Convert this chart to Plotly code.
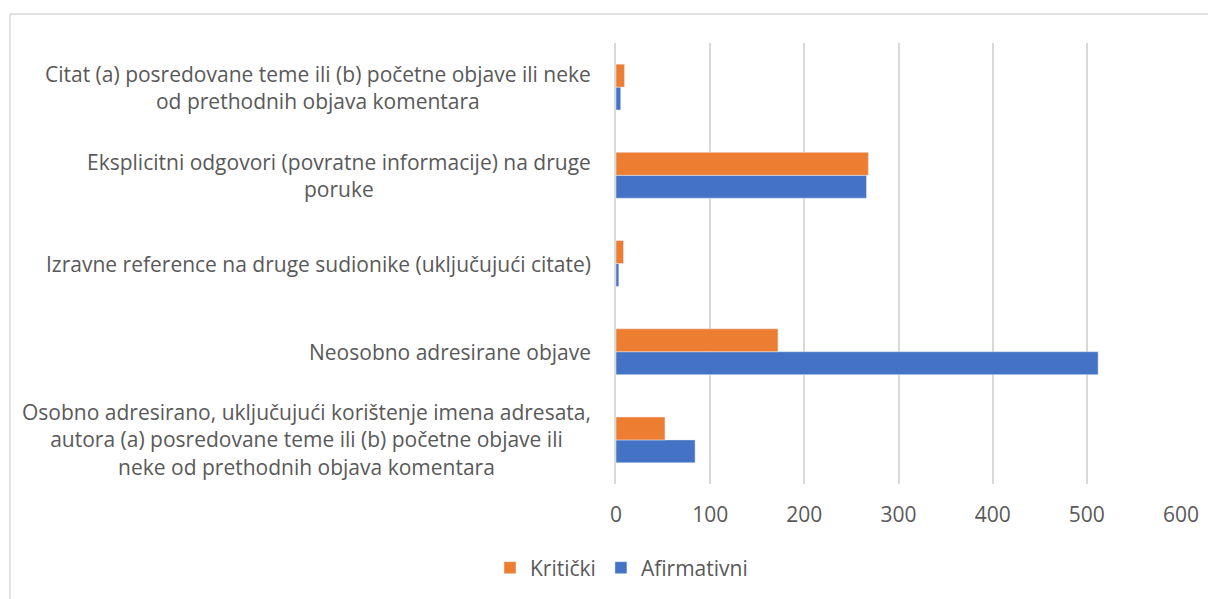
import plotly.graph_objects as go

# Categories listed top-to-bottom as in the reference
categories = [
    "Citat (a) posredovane teme ili (b) početne objave ili neke<br>od prethodnih objava komentara",
    "Eksplicitni odgovori (povratne informacije) na druge<br>poruke",
    "Izravne reference na druge sudionike (uključujući citate)",
    "Neosobno adresirane objave",
    "Osobno adresirano, uključujući korištenje imena adresata,<br>autora (a) posredovane teme ili (b) početne objave ili<br>neke od prethodnih objava komentara",
]
kriticki = [9, 268, 8, 172, 52]
afirmativni = [5, 266, 3, 512, 84]
x_ticks = [0, 100, 200, 300, 400, 500, 600]

keys = [f"c{i}" for i in range(len(categories))]
# plotly draws first category at bottom -> reverse
order = keys[::-1]

TXT = "#595959"
FONT = "Open Sans"
FS = 21

fig = go.Figure()
fig.add_trace(go.Bar(
    y=keys, x=afirmativni, orientation="h", name="Afirmativni",
    marker=dict(color="#4472C4"),
))
fig.add_trace(go.Bar(
    y=keys, x=kriticki, orientation="h", name="Kritički",
    marker=dict(color="#ED7D31"),
))

# page body adds an 8px offset, so coordinates below are screen px - 8
W, H = 1208, 591
L, T = 608, 35
PR, PB = 1173, 476
R, B = W - PR, H - PB
pw = PR - L
ph = PB - T

def px(x):
    return (x - L) / pw

def py(y):
    return (PB - y) / ph

for k, lab in zip(keys, categories):
    fig.add_annotation(
        x=px(585), xref="paper", y=k, yref="y",
        text=lab, showarrow=False, xanchor="right", yanchor="middle",
        align="center", font=dict(family=FONT, size=FS, color=TXT),
    )

# chart outer border (visible left and top edges)
fig.add_shape(type="line", xref="paper", yref="paper",
              x0=px(2), x1=px(W), y0=py(6), y1=py(6),
              line=dict(color="#D9D9D9", width=1.5))
fig.add_shape(type="line", xref="paper", yref="paper",
              x0=px(2), x1=px(2), y0=py(6), y1=py(H),
              line=dict(color="#D9D9D9", width=1.5))

fig.update_layout(
    width=W, height=H,
    margin=dict(l=L, r=R, t=T, b=B, autoexpand=False),
    paper_bgcolor="white", plot_bgcolor="white",
    barmode="group", bargap=0.48, bargroupgap=0,
    font=dict(family=FONT, size=FS, color=TXT),
    showlegend=True,
    legend=dict(
        orientation="h", traceorder="reversed",
        x=px(482), xanchor="left",
        y=py(560), yanchor="middle",
        font=dict(family=FONT, size=FS, color=TXT),
        itemwidth=30,
    ),
    xaxis=dict(
        range=[0, 600], tickvals=x_ticks, showgrid=True,
        gridcolor="#D9D9D9", gridwidth=1.5, zeroline=False,
        showline=False, ticks="outside", ticklen=12, tickcolor="rgba(0,0,0,0)",
        tickfont=dict(family=FONT, size=FS, color=TXT),
    ),
    yaxis=dict(
        type="category", categoryorder="array", categoryarray=order,
        showticklabels=False, showgrid=False, zeroline=False,
        showline=True, linecolor="#D9D9D9", linewidth=1.5,
    ),
)

fig.write_html("out.html")
